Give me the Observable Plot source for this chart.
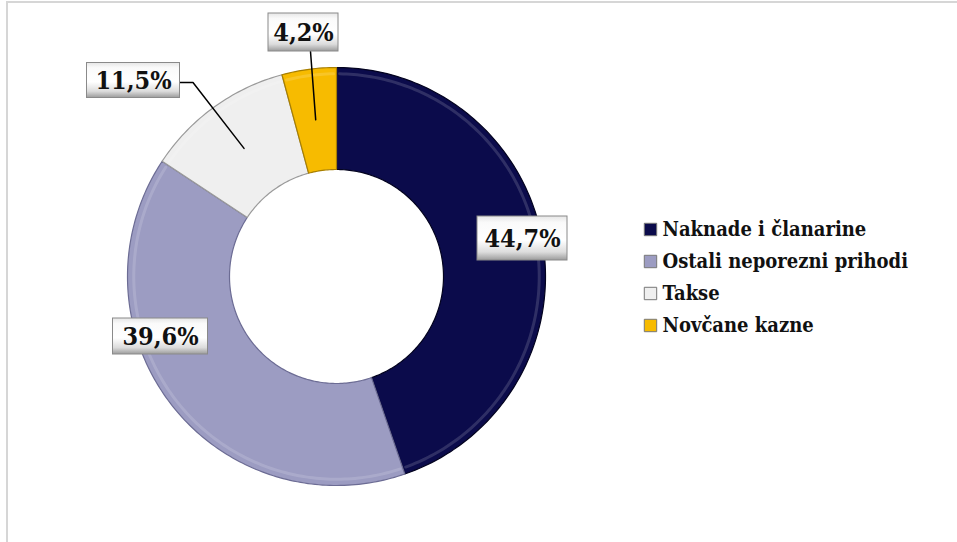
<!DOCTYPE html>
<html><head><meta charset="utf-8">
<script src="https://cdn.jsdelivr.net/npm/d3@7"></script>
<script src="https://cdn.jsdelivr.net/npm/@observablehq/plot@0.6"></script>
<style>
body{margin:0;background:#fff;}
#wrap{position:relative;width:957px;height:542px;overflow:hidden;background:#fff;}
#wrap svg{position:absolute;left:0;top:0;}
#frame{position:absolute;left:6px;top:1px;right:-4px;bottom:-4px;border-top:2px solid #d6d6d6;border-left:2px solid #d6d6d6;pointer-events:none;}
</style></head><body><div id="wrap"></div>
<script>
// ---- data ----
const categories = ["Naknade i članarine", "Ostali neporezni prihodi", "Takse", "Novčane kazne"];
const shares = [44.7, 39.6, 11.5, 4.2];
const labels = ["44,7%", "39,6%", "11,5%", "4,2%"];
const colors = ["#0b0b4b", "#9c9cc2", "#efefef", "#f7bb00"];
const edgeColors = ["#03031f", "#6c6c94", "#9a9a9a", "#a87f00"];

// ---- layout (pixels) ----
const W = 957, H = 542, CX = 336, CY = 276, R = 209, RIN = 107;
const labelCenter = [[522, 238], [160, 336], [133, 80], [303, 32]];
const labelBox = [[90, 44], [95, 36], [93, 35], [70, 38]];
const legendX = 650, legendTextX = 662, legendY0 = 229, legendStep = 32;

const ux = px => (px - CX) / R;
const uy = py => (CY - py) / R;
const rin = RIN / R;

// slices
const total = d3.sum(shares);
let cum = 0;
const slices = shares.map((v, i) => {
  const a0 = cum / total * 2 * Math.PI;
  cum += v;
  const a1 = cum / total * 2 * Math.PI;
  return {i, a0, a1, mid: (a0 + a1) / 2};
});
function arcPts(a0, a1, r) {
  const n = Math.max(4, Math.ceil((a1 - a0) / (Math.PI / 180)));
  return d3.range(n + 1).map(k => {
    const a = a0 + (a1 - a0) * k / n;
    return {x: r * Math.sin(a), y: r * Math.cos(a)};
  });
}
const sliceMarks = slices.map(s => {
  const pts = arcPts(s.a0, s.a1, 1).concat(arcPts(s.a0, s.a1, rin).reverse());
  return Plot.line(pts, {x: "x", y: "y", curve: "linear-closed", fill: colors[s.i], stroke: edgeColors[s.i], strokeWidth: 1.2});
});
const highlightMarks = slices.map(s =>
  Plot.line(arcPts(s.a0 + 0.015, s.a1 - 0.015, 0.97), {x: "x", y: "y", stroke: "#ffffff", strokeOpacity: 0.15, strokeWidth: 3})
);

// labels
const lbl = labels.map((t, i) => ({
  text: t,
  x: ux(labelCenter[i][0]), y: uy(labelCenter[i][1]),
  x1: ux(labelCenter[i][0] - labelBox[i][0] / 2), x2: ux(labelCenter[i][0] + labelBox[i][0] / 2),
  y1: uy(labelCenter[i][1] - labelBox[i][1] / 2), y2: uy(labelCenter[i][1] + labelBox[i][1] / 2)
}));

// leader lines
const midPt = (i, r) => ({x: r * Math.sin(slices[i].mid), y: r * Math.cos(slices[i].mid)});
const rMid = (1 + rin) / 2;
const leaderTakse = [
  {x: ux(labelCenter[2][0] + labelBox[2][0] / 2), y: uy(labelCenter[2][1] + 2)},
  {x: ux(labelCenter[2][0] + labelBox[2][0] / 2 + 13), y: uy(labelCenter[2][1] + 2)},
  midPt(2, rMid)
];
const leaderKazne = [
  {x: ux(labelCenter[3][0] + 7), y: uy(labelCenter[3][1] + labelBox[3][1] / 2)},
  midPt(3, rMid)
];

// legend
const leg = categories.map((c, i) => ({
  c, col: colors[i], edge: edgeColors[i],
  xs: ux(legendX), xt: ux(legendTextX), y: uy(legendY0 + legendStep * i)
}));

const serif = "'DejaVu Serif Condensed', 'DejaVu Serif', serif";
const chart = Plot.plot({
  width: W, height: H, margin: 0,
  style: {background: "transparent", overflow: "visible", fontFamily: serif},
  x: {domain: [ux(0), ux(W)], axis: null},
  y: {domain: [uy(H), uy(0)], axis: null},
  marks: [
    ...sliceMarks,
    ...highlightMarks,
    Plot.line(leaderTakse, {x: "x", y: "y", stroke: "#000", strokeWidth: 1.5}),
    Plot.line(leaderKazne, {x: "x", y: "y", stroke: "#000", strokeWidth: 1.5}),
    Plot.rect(lbl, {x1: "x1", x2: "x2", y1: "y1", y2: "y2", fill: "url(#lblGrad)", stroke: "#8a8a8a", strokeWidth: 1}),
    Plot.text(lbl, {x: "x", y: "y", text: "text", fontSize: 25, fontWeight: "bold", fontFamily: serif, fill: "#111"}),
    Plot.dot(leg, {x: "xs", y: "y", symbol: "square", r: 7, fill: "col", stroke: "#777", strokeWidth: 1}),
    Plot.text(leg, {x: "xt", y: "y", text: "c", textAnchor: "start", fontSize: 20, fontWeight: "bold", fontFamily: serif, fill: "#111"})
  ]
});

d3.select(chart).insert("defs", ":first-child").html(
  `<linearGradient id="lblGrad" x1="0" y1="0" x2="0" y2="1">
     <stop offset="0" stop-color="#e6e6e6"/>
     <stop offset="0.15" stop-color="#fafafa"/>
     <stop offset="0.55" stop-color="#ffffff"/>
     <stop offset="0.82" stop-color="#dcdcdc"/>
     <stop offset="1" stop-color="#9c9c9c"/>
   </linearGradient>`);

const wrap = document.getElementById("wrap");
wrap.appendChild(chart);
const frame = document.createElement("div");
frame.id = "frame";
wrap.appendChild(frame);
</script>
</body></html>
